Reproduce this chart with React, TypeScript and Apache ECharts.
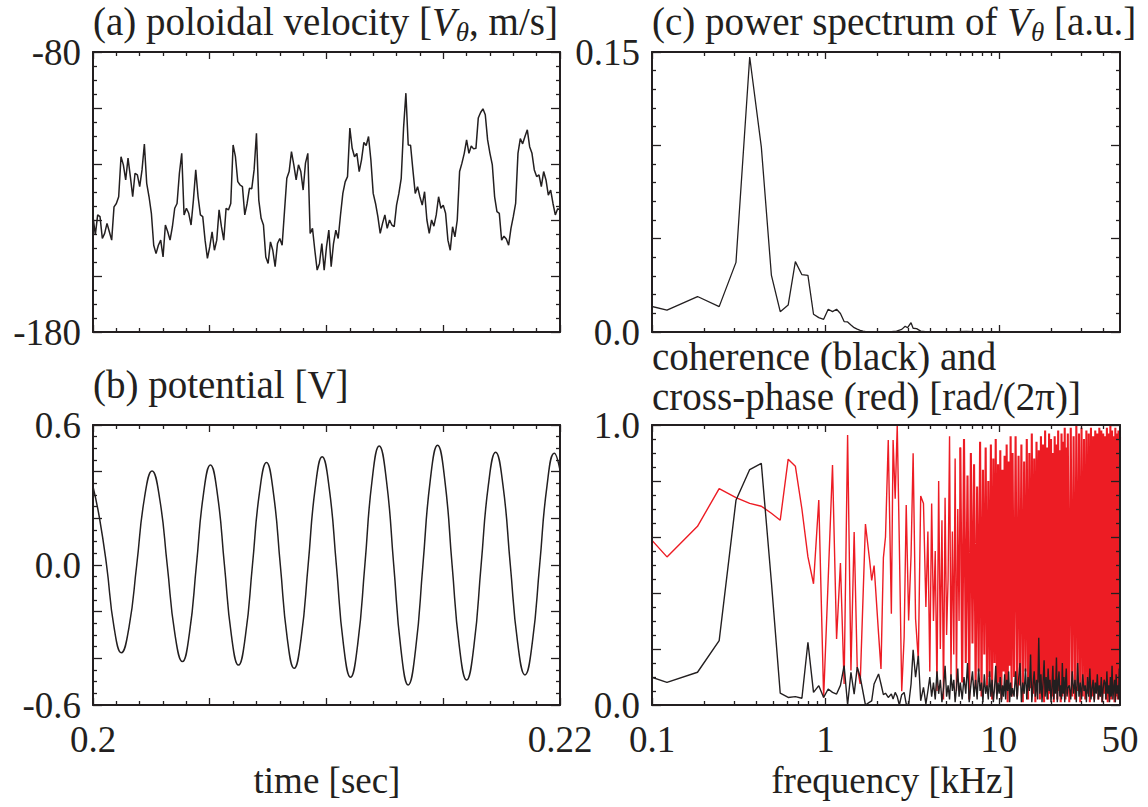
import React, { useEffect, useRef } from 'react';
import * as echarts from 'echarts';

const FONT = "'Liberation Serif', 'Times New Roman', Times, 'DejaVu Serif', serif";
const INK = '#231f20';
const RED = '#ed1c24';

// ---------- (a) poloidal velocity [m/s], sampled every 0.1 ms from t = 0.2 s ----------
const velocityStart = 0.2;
const velocityStep = 0.0001;
const velocity = [
  -138.8, -145.3, -138.2, -138.8, -146.6, -144.8, -141.2, -144.2, -147.2, -135.3,
  -134.1, -131.7, -117.4, -120.3, -125.7, -117.9, -124.5, -131.7, -123.3, -123.9,
  -128.1, -122.1, -112.9, -126.9, -131.7, -137.6, -149.0, -152.0, -149.0, -147.2,
  -153.2, -141.8, -144.2, -147.2, -142.4, -135.8, -134.1, -123.3, -116.2, -138.2,
  -135.8, -137.6, -141.8, -132.9, -122.1, -131.7, -138.2, -138.8, -147.2, -153.7,
  -149.6, -144.2, -150.8, -147.2, -136.4, -142.4, -147.2, -135.8, -136.4, -134.1,
  -113.2, -117.4, -126.3, -127.5, -128.1, -138.2, -134.1, -128.7, -128.8, -122.1,
  -109.0, -132.9, -139.4, -141.8, -153.2, -155.5, -147.8, -150.8, -156.7, -148.4,
  -146.6, -149.0, -137.0, -125.1, -122.7, -115.6, -120.3, -125.7, -120.3, -122.7,
  -129.3, -119.7, -116.2, -144.8, -143.0, -150.8, -157.9, -155.5, -148.4, -157.9,
  -149.6, -143.6, -156.7, -148.4, -143.6, -146.6, -138.2, -130.5, -126.4, -124.5,
  -107.2, -114.4, -117.4, -116.2, -122.7, -118.5, -112.3, -113.4, -110.2, -118.5,
  -130.5, -134.1, -138.8, -144.8, -141.2, -138.2, -143.0, -140.0, -141.8, -142.4,
  -134.7, -130.5, -125.1, -107.2, -94.7, -113.2, -113.3, -122.1, -130.5, -128.1,
  -131.7, -134.7, -129.9, -140.0, -144.8, -140.0, -142.2, -138.2, -131.7, -135.8,
  -134.7, -137.6, -147.2, -150.8, -142.4, -146.0, -140.0, -122.7, -119.7, -116.2,
  -111.4, -116.2, -113.6, -114.6, -114.4, -103.6, -101.6, -100.3, -102.4, -111.4,
  -116.2, -120.2, -131.7, -137.0, -137.6, -147.2, -145.8, -146.8, -149.0, -143.0,
  -138.8, -134.1, -116.2, -110.9, -112.8, -110.2, -107.8, -113.8, -116.2, -122.1,
  -124.5, -123.9, -128.1, -122.7, -125.7, -131.1, -129.3, -134.1, -138.2, -136.0,
  -136.4,
];

// ---------- (b) potential [V] ----------
const potentialTime = [
  0.2, 0.20028, 0.20058, 0.2009, 0.201214, 0.201543, 0.201872, 0.2022, 0.202529, 0.202854,
  0.203179, 0.203504, 0.203829, 0.204129, 0.204429, 0.204729, 0.205029, 0.205329, 0.205629, 0.205929,
  0.206229, 0.206529, 0.206829, 0.207129, 0.207429, 0.207725, 0.208022, 0.208318, 0.208614, 0.208914,
  0.209214, 0.209514, 0.209814, 0.210118, 0.210422, 0.210725, 0.211029, 0.211336, 0.211643, 0.21195,
  0.212257, 0.212568, 0.212879, 0.213189, 0.2135, 0.213814, 0.214129, 0.214443, 0.214757, 0.215068,
  0.215379, 0.215689, 0.216, 0.216311, 0.216622, 0.216932, 0.217243, 0.217557, 0.217872, 0.218186,
  0.2185, 0.218814, 0.219129, 0.219443, 0.219757, 0.22,
];
const potential = [
  0.336, 0.2, 0.0, -0.266, -0.376, -0.266, 0.0, 0.285, 0.403, 0.285,
  0.0, -0.293, -0.414, -0.293, 0.0, 0.303, 0.429, 0.303, 0.0, -0.303,
  -0.429, -0.303, 0.0, 0.31, 0.439, 0.31, 0.0, -0.313, -0.443, -0.313,
  0.0, 0.328, 0.464, 0.328, 0.0, -0.34, -0.481, -0.34, 0.0, 0.361,
  0.51, 0.361, 0.0, -0.363, -0.514, -0.363, 0.0, 0.363, 0.513, 0.363,
  0.0, -0.349, -0.493, -0.349, 0.0, 0.342, 0.483, 0.342, 0.0, -0.333,
  -0.471, -0.333, 0.0, 0.339, 0.479, 0.407,
];

// ---------- (c) power spectrum of V_theta [a.u.] ----------
const spectrumFreq = [
  0.061, 0.122, 0.183, 0.244, 0.305, 0.366, 0.427, 0.488, 0.549, 0.61,
  0.671, 0.732, 0.793, 0.854, 0.916, 0.977, 1.038, 1.099, 1.16, 1.221,
  1.282, 1.343, 1.404, 1.465, 1.526, 1.587, 1.648, 1.709, 1.9, 2.14,
  2.4, 2.572, 2.755, 2.885, 2.979, 3.118, 3.205, 3.357, 3.545, 3.886,
  5.0, 6.5, 8.0, 10, 20, 50,
];
const spectrumPower = [
  0.0186, 0.0117, 0.019, 0.0136, 0.0373, 0.1473, 0.0992, 0.0305, 0.0109, 0.0144,
  0.0377, 0.0307, 0.0303, 0.0095, 0.0077, 0.0068, 0.0122, 0.0109, 0.0122, 0.0099,
  0.0056, 0.0054, 0.0038, 0.0023, 0.0015, 0.0009, 0.0005, 0.0002, 0.0001, 0.0,
  0.0002, 0.0005, 0.0014, 0.0031, 0.0023, 0.005, 0.002, 0.0018, 0.0005, 0.0,
  0.0001, 0.0003, 0.0001, 0.0, 0.0, 0.0,
];

// ---------- (d) coherence (black) and cross-phase (red) ----------
const freqLow = [
  0.061, 0.122, 0.183, 0.244, 0.305, 0.366, 0.427, 0.488, 0.549, 0.61,
  0.671, 0.732, 0.793, 0.854, 0.916, 0.977, 1.038, 1.099, 1.16, 1.221,
  1.282, 1.343, 1.404, 1.465, 1.526, 1.587,
];
const freqMid = [
  1.702, 1.799, 1.849, 1.909, 2.026, 2.092, 2.16, 2.221, 2.304, 2.401,
  2.457, 2.526, 2.596, 2.669, 2.755, 2.845, 2.925, 3.02, 3.119, 3.206,
  3.311, 3.435, 3.545, 3.678, 3.798,
  3.9, 4.0, 4.1, 4.2, 4.3, 4.4, 4.5, 4.6, 4.7, 4.8, 4.9, 5.0, 5.1, 5.2, 5.3, 5.4, 5.5, 5.6, 5.7, 5.8, 5.9, 6.0,
];
const freqHigh = [
  6.15, 6.3, 6.45, 6.6, 6.75, 6.9, 7.05, 7.2, 7.35, 7.5, 7.65, 7.8, 7.95, 8.1, 8.25, 8.4, 8.55, 8.7, 8.85, 9.0,
  9.15, 9.3, 9.45, 9.6, 9.75, 9.9, 10.05, 10.2, 10.35, 10.5, 10.65, 10.8, 10.95, 11.1, 11.25, 11.4, 11.55, 11.7, 11.85, 12.0,
  12.25, 12.5, 12.75, 13.0, 13.25, 13.5, 13.75, 14.0, 14.25, 14.5, 14.75, 15.0, 15.25, 15.5, 15.75, 16.0,
  16.25, 16.5, 16.75, 17.0, 17.25, 17.5, 17.75, 18.0, 18.25, 18.5, 18.75, 19.0, 19.25, 19.5, 19.75, 20.0,
  20.25, 20.5, 20.75, 21.0, 21.25, 21.5, 21.75, 22.0, 22.25, 22.5, 22.75, 23.0, 23.25, 23.5, 23.75, 24.0,
  24.25, 24.5, 24.75, 25.0,
  25.5, 26.0, 26.5, 27.0, 27.5, 28.0, 28.5, 29.0, 29.5, 30.0, 30.5, 31.0, 31.5, 32.0, 32.5, 33.0, 33.5, 34.0,
  34.5, 35.0, 35.5, 36.0, 36.5, 37.0, 37.5, 38.0, 38.5, 39.0, 39.5, 40.0, 40.5, 41.0, 41.5, 42.0, 42.5, 43.0,
  43.5, 44.0, 44.5, 45.0, 45.5, 46.0, 46.5, 47.0, 47.5, 48.0, 48.5, 49.0, 49.5, 50.0,
];
const coherenceLow = [
  0.144, 0.081, 0.117, 0.23, 0.731, 0.841, 0.863, 0.44, 0.042, 0.027,
  0.03, 0.024, 0.224, 0.045, 0.069, 0.027, 0.057, 0.045, 0.039, 0.07,
  0.141, 0.0, 0.117, 0.039, 0.135, 0.1,
];
const coherenceMid = [
  0.0, 0.01, 0.015, 0.075, 0.111, 0.075, 0.037, 0.042, 0.027, 0.039,
  0.021, 0.045, 0.03, 0.0, 0.037, 0.045, 0.004, 0.0, 0.075, 0.197,
  0.099, 0.176, 0.015, 0.063, 0.004,
  0.05, 0.1, 0.03, 0.08, 0.02, 0.12, 0.04, 0.09, 0.01, 0.06, 0.14, 0.03, 0.07, 0.02, 0.11, 0.05, 0.09, 0.01, 0.06, 0.13, 0.03, 0.08,
];
const coherenceHigh = [
  // 6.15 - 12.0
  0.02, 0.1, 0.04, 0.15, 0.01, 0.07, 0.12, 0.03, 0.09, 0.02, 0.13, 0.05, 0.08, 0.01, 0.11, 0.04, 0.07, 0.02, 0.12, 0.03,
  0.09, 0.01, 0.06, 0.14, 0.02, 0.08, 0.04, 0.1, 0.01, 0.07, 0.03, 0.11, 0.02, 0.09, 0.05, 0.12, 0.01, 0.08, 0.03, 0.06,
  // 12.25 - 25.0
  0.03, 0.12, 0.02, 0.09, 0.15, 0.01, 0.08, 0.04, 0.13, 0.02, 0.1, 0.05, 0.18, 0.01, 0.07, 0.12,
  0.03, 0.09, 0.02, 0.24, 0.04, 0.11, 0.01, 0.08, 0.16, 0.03, 0.1, 0.02, 0.13, 0.05, 0.09, 0.01,
  0.06, 0.14, 0.02, 0.09, 0.04, 0.17, 0.01, 0.08, 0.12, 0.03, 0.07, 0.02, 0.15, 0.04, 0.1, 0.01,
  0.08, 0.13, 0.03, 0.06,
  // 25.5 - 50.0
  0.07, 0.02, 0.12, 0.04, 0.09, 0.01, 0.15, 0.03, 0.08, 0.02, 0.11, 0.05, 0.07, 0.01, 0.1, 0.03, 0.13, 0.02,
  0.06, 0.09, 0.01, 0.08, 0.04, 0.11, 0.02, 0.07, 0.03, 0.1, 0.01, 0.06, 0.09, 0.08, 0.02, 0.12, 0.04, 0.07,
  0.01, 0.1, 0.03, 0.14, 0.02, 0.06, 0.09, 0.01, 0.11, 0.04, 0.07, 0.02, 0.13, 0.05,
];
const crossPhaseLow = [
  0.735, 0.529, 0.638, 0.773, 0.741, 0.72, 0.71, 0.685, 0.66, 0.878,
  0.853, 0.7, 0.529, 0.433, 0.732, 0.027, 0.45, 0.857, 0.236, 0.507,
  0.075, 0.964, 0.123, 0.618, 0.135, 0.075,
];
const crossPhaseMid = [
  0.646, 0.517, 0.445, 0.498, 0.254, 0.129, 0.526, 0.6, 0.946, 0.326,
  0.946, 0.737, 1.0, 0.576, 0.049, 0.242, 0.714, 0.302, 0.535, 0.899,
  0.308, 0.159, 0.746, 0.72, 0.35,
  0.62, 0.12, 0.72, 0.3, 0.55, 0.05, 0.8, 0.2, 0.66, 0.02, 0.74, 0.25, 0.45, 0.96, 0.1, 0.62, 0.18, 0.88, 0.05, 0.7, 0.3, 0.92,
];
const crossPhaseHigh = [
  // 6.15 - 12.0
  0.08, 0.95, 0.15, 0.82, 0.02, 0.9, 0.22, 0.86, 0.06, 0.78, 0.12, 0.94, 0.03, 0.84, 0.18, 0.92, 0.05, 0.8, 0.1, 0.93,
  0.02, 0.88, 0.15, 0.95, 0.04, 0.86, 0.08, 0.91, 0.02, 0.84, 0.12, 0.89, 0.06, 0.93, 0.01, 0.87, 0.14, 0.96, 0.03, 0.9,
  // 12.25 - 25.0
  0.1, 0.96, 0.03, 0.89, 0.07, 0.93, 0.01, 0.87, 0.12, 0.95, 0.02, 0.9, 0.06, 0.97, 0.04, 0.88,
  0.01, 0.94, 0.08, 0.91, 0.02, 0.96, 0.05, 0.93, 0.01, 0.98, 0.06, 0.92, 0.02, 0.97, 0.04, 0.95,
  0.03, 0.9, 0.01, 0.96, 0.07, 0.93, 0.02, 0.98, 0.05, 0.91, 0.01, 0.97, 0.03, 0.94, 0.06, 0.99,
  0.02, 0.92, 0.04, 0.97,
  // 25.5 - 50.0
  0.01, 0.99, 0.03, 0.96, 0.02, 1.0, 0.05, 0.97, 0.01, 0.99, 0.03, 0.95, 0.02, 0.98, 0.04, 0.97, 0.01, 0.99,
  0.03, 0.96, 0.02, 0.98, 0.05, 0.97, 0.02, 0.99, 0.03, 0.98, 0.01, 0.97, 0.04, 0.96, 0.02, 0.99, 0.01, 0.97,
  0.03, 1.0, 0.02, 0.98, 0.04, 0.96, 0.01, 0.99, 0.03, 0.97, 0.02, 0.98, 0.05, 0.96,
];

// ---------- tick labels ----------
const velocityLabels = [-180, -80];
const potentialLabels = [-0.6, 0, 0.6];
const spectrumLabels = [0, 0.15];
const coherenceLabels = [0, 1];
const timeLabels = [0.2, 0.22];
const freqLabels = [0.1, 1, 10, 50];
const freqMajorTicks = [0.1, 1, 10];
const freqMinorTicks = [0.2, 0.3, 0.4, 0.5, 0.6, 0.7, 0.8, 0.9, 2, 3, 4, 5, 6, 7, 8, 9, 20, 30, 40];

const LOG_MIN = Math.log10(0.1);
const LOG_MAX = Math.log10(50);

function zip(xs: number[], ys: number[], fx: (v: number) => number = (v) => v) {
  return ys.map((y, i) => [fx(xs[i]), y]);
}

type AxisOpts = {
  grid: number;
  pos: string;
  min: number;
  max: number;
  interval?: number;
  minorSplit?: number;
  tickLen: number;
  minorLen?: number;
  showLine?: boolean;
  ticks?: number[];
  labels?: number[];
  fmt?: (v: number) => string;
  margin?: number;
};

function makeAxis(o: AxisOpts) {
  const a: any = {
    type: 'value',
    gridIndex: o.grid,
    position: o.pos,
    min: o.min,
    max: o.max,
    axisLine: { show: o.showLine !== false, onZero: false, lineStyle: { color: INK, width: 2 } },
    axisTick: { show: true, inside: true, length: o.tickLen, lineStyle: { color: INK, width: 1.3 } },
    splitLine: { show: false },
    minorSplitLine: { show: false },
    minorTick: { show: false },
    axisLabel: { show: false },
    silent: true,
    z: 5,
  };
  if (o.interval != null) a.interval = o.interval;
  if (o.ticks) a.axisTick.customValues = o.ticks;
  if (o.minorSplit) {
    a.minorTick = {
      show: true,
      splitNumber: o.minorSplit,
      length: o.minorLen,
      lineStyle: { color: INK, width: 1.3 },
    };
  }
  if (o.labels) {
    a.axisLabel = {
      show: true,
      customValues: o.labels,
      formatter: o.fmt,
      margin: o.margin ?? 12,
      fontFamily: FONT,
      fontSize: 37,
      color: INK,
      hideOverlap: false,
    };
  }
  return a;
}

function fmtFreq(v: number) {
  const f = Math.pow(10, v);
  if (f < 0.3) return '0.1';
  if (f < 3) return '1';
  if (f < 30) return '10';
  return '50';
}

function titleText(x: number, y: number, text: string, size = 39, align = 'left') {
  return {
    type: 'text',
    x,
    y,
    silent: true,
    style: {
      text,
      fontSize: size,
      fontFamily: FONT,
      fill: INK,
      textAlign: align,
      align,
      textVerticalAlign: 'middle',
      verticalAlign: 'middle',
      rich: {
        v: { fontSize: size, fontFamily: FONT, fontStyle: 'italic', fill: INK },
        s: { fontSize: 27, fontFamily: FONT, fontStyle: 'italic', fill: INK, lineHeight: 48, verticalAlign: 'bottom' },
      },
    },
  };
}

function buildOption() {
  const grids = [
    { left: 93, top: 52, width: 467, height: 280 },
    { left: 93, top: 425, width: 467, height: 280 },
    { left: 652, top: 52, width: 468, height: 280 },
    { left: 652, top: 425, width: 468, height: 280 },
  ].map((g) => ({ ...g, containLabel: false, outerBoundsMode: 'none', show: false }));

  const majorLog = freqMajorTicks.map(Math.log10);
  const minorLog = freqMinorTicks.map(Math.log10);

  const xAxis = [
    makeAxis({ grid: 0, pos: 'bottom', min: 0.2, max: 0.22, interval: 0.005, minorSplit: 5, tickLen: 7, minorLen: 4 }),
    makeAxis({ grid: 0, pos: 'top', min: 0.2, max: 0.22, interval: 0.005, minorSplit: 5, tickLen: 7, minorLen: 4 }),
    makeAxis({
      grid: 1, pos: 'bottom', min: 0.2, max: 0.22, interval: 0.005, minorSplit: 5, tickLen: 7, minorLen: 4,
      labels: timeLabels, fmt: (v) => String(Math.round(v * 1000) / 1000), margin: 16,
    }),
    makeAxis({ grid: 1, pos: 'top', min: 0.2, max: 0.22, interval: 0.005, minorSplit: 5, tickLen: 7, minorLen: 4 }),
    makeAxis({ grid: 2, pos: 'bottom', min: LOG_MIN, max: LOG_MAX, tickLen: 7, ticks: majorLog }),
    makeAxis({ grid: 2, pos: 'bottom', min: LOG_MIN, max: LOG_MAX, tickLen: 4, ticks: minorLog, showLine: false }),
    makeAxis({ grid: 2, pos: 'top', min: LOG_MIN, max: LOG_MAX, tickLen: 7, ticks: majorLog }),
    makeAxis({ grid: 2, pos: 'top', min: LOG_MIN, max: LOG_MAX, tickLen: 4, ticks: minorLog, showLine: false }),
    makeAxis({
      grid: 3, pos: 'bottom', min: LOG_MIN, max: LOG_MAX, tickLen: 7, ticks: majorLog,
      labels: freqLabels.map(Math.log10), fmt: fmtFreq, margin: 16,
    }),
    makeAxis({ grid: 3, pos: 'bottom', min: LOG_MIN, max: LOG_MAX, tickLen: 4, ticks: minorLog, showLine: false }),
    makeAxis({ grid: 3, pos: 'top', min: LOG_MIN, max: LOG_MAX, tickLen: 7, ticks: majorLog }),
    makeAxis({ grid: 3, pos: 'top', min: LOG_MIN, max: LOG_MAX, tickLen: 4, ticks: minorLog, showLine: false }),
  ];

  const yAxis = [
    makeAxis({
      grid: 0, pos: 'left', min: -180, max: -80, interval: 20, minorSplit: 4, tickLen: 9, minorLen: 4,
      labels: velocityLabels, fmt: (v) => String(Math.round(v)),
    }),
    makeAxis({ grid: 0, pos: 'right', min: -180, max: -80, interval: 20, minorSplit: 4, tickLen: 9, minorLen: 4 }),
    makeAxis({
      grid: 1, pos: 'left', min: -0.6, max: 0.6, interval: 0.2, minorSplit: 4, tickLen: 9, minorLen: 4,
      labels: potentialLabels, fmt: (v) => (Math.abs(v) < 1e-9 ? '0.0' : v.toFixed(1)),
    }),
    makeAxis({ grid: 1, pos: 'right', min: -0.6, max: 0.6, interval: 0.2, minorSplit: 4, tickLen: 9, minorLen: 4 }),
    makeAxis({
      grid: 2, pos: 'left', min: 0, max: 0.15, interval: 0.05, minorSplit: 5, tickLen: 9, minorLen: 4,
      labels: spectrumLabels, fmt: (v) => (Math.abs(v) < 1e-9 ? '0.0' : '0.15'),
    }),
    makeAxis({ grid: 2, pos: 'right', min: 0, max: 0.15, interval: 0.05, minorSplit: 5, tickLen: 9, minorLen: 4 }),
    makeAxis({
      grid: 3, pos: 'left', min: 0, max: 1, interval: 0.2, minorSplit: 4, tickLen: 9, minorLen: 4,
      labels: coherenceLabels, fmt: (v) => v.toFixed(1),
    }),
    makeAxis({ grid: 3, pos: 'right', min: 0, max: 1, interval: 0.2, minorSplit: 4, tickLen: 9, minorLen: 4 }),
  ];

  const velocityTime = velocity.map((_, i) => velocityStart + i * velocityStep);
  const freqLM = [...freqLow, ...freqMid];
  const cohAll = [...coherenceLow, ...coherenceMid, ...coherenceHigh];
  const freqAll = [...freqLow, ...freqMid, ...freqHigh];
  const phaseLM = [...crossPhaseLow, ...crossPhaseMid];
  // the dense high-frequency part of the cross-phase joins on at the last mid point
  const phaseHighData = [
    [Math.log10(freqMid[freqMid.length - 1]), crossPhaseMid[crossPhaseMid.length - 1]],
    ...zip(freqHigh, crossPhaseHigh, Math.log10),
  ];

  const lineBase = {
    type: 'line',
    showSymbol: false,
    symbol: 'none',
    silent: true,
    clip: true,
    emphasis: { disabled: true },
    z: 3,
  };

  const series = [
    { ...lineBase, xAxisIndex: 0, yAxisIndex: 0, data: zip(velocityTime, velocity), lineStyle: { color: INK, width: 1.5 } },
    { ...lineBase, xAxisIndex: 2, yAxisIndex: 2, smooth: 0.5, data: zip(potentialTime, potential), lineStyle: { color: INK, width: 1.5 } },
    { ...lineBase, xAxisIndex: 4, yAxisIndex: 4, data: zip(spectrumFreq, spectrumPower, Math.log10), lineStyle: { color: INK, width: 1.3 } },
    { ...lineBase, xAxisIndex: 8, yAxisIndex: 6, data: zip(freqLM, phaseLM, Math.log10), lineStyle: { color: RED, width: 1.4 } },
    { ...lineBase, xAxisIndex: 8, yAxisIndex: 6, data: phaseHighData, lineStyle: { color: RED, width: 2.1 } },
    { ...lineBase, xAxisIndex: 8, yAxisIndex: 6, data: zip(freqAll, cohAll, Math.log10), lineStyle: { color: INK, width: 1.4 }, z: 4 },
  ];

  return {
    animation: false,
    backgroundColor: '#ffffff',
    textStyle: { fontFamily: FONT },
    grid: grids,
    xAxis,
    yAxis,
    series,
    graphic: {
      elements: [
        titleText(93, 21, '(a) poloidal velocity [{v|V}{s|θ}, m/s]'),
        titleText(93, 384, '(b) potential [V]'),
        titleText(652, 21, '(c) power spectrum of {v|V}{s|θ} [a.u.]'),
        titleText(652, 356, 'coherence (black) and'),
        titleText(652, 396, 'cross-phase (red) [rad/(2π)]'),
        titleText(327, 780, 'time [sec]', 37, 'center'),
        titleText(893, 780, 'frequency [kHz]', 37, 'center'),
      ],
    },
  };
}

export default function App() {
  const ref = useRef<HTMLDivElement>(null);
  useEffect(() => {
    if (!ref.current) return;
    const chart = echarts.init(ref.current, null, { renderer: 'svg' });
    chart.setOption(buildOption() as any);
    return () => chart.dispose();
  }, []);
  return (
    <div
      ref={ref}
      style={{ position: 'absolute', left: 0, top: 0, width: 1148, height: 807, background: '#ffffff' }}
    />
  );
}
